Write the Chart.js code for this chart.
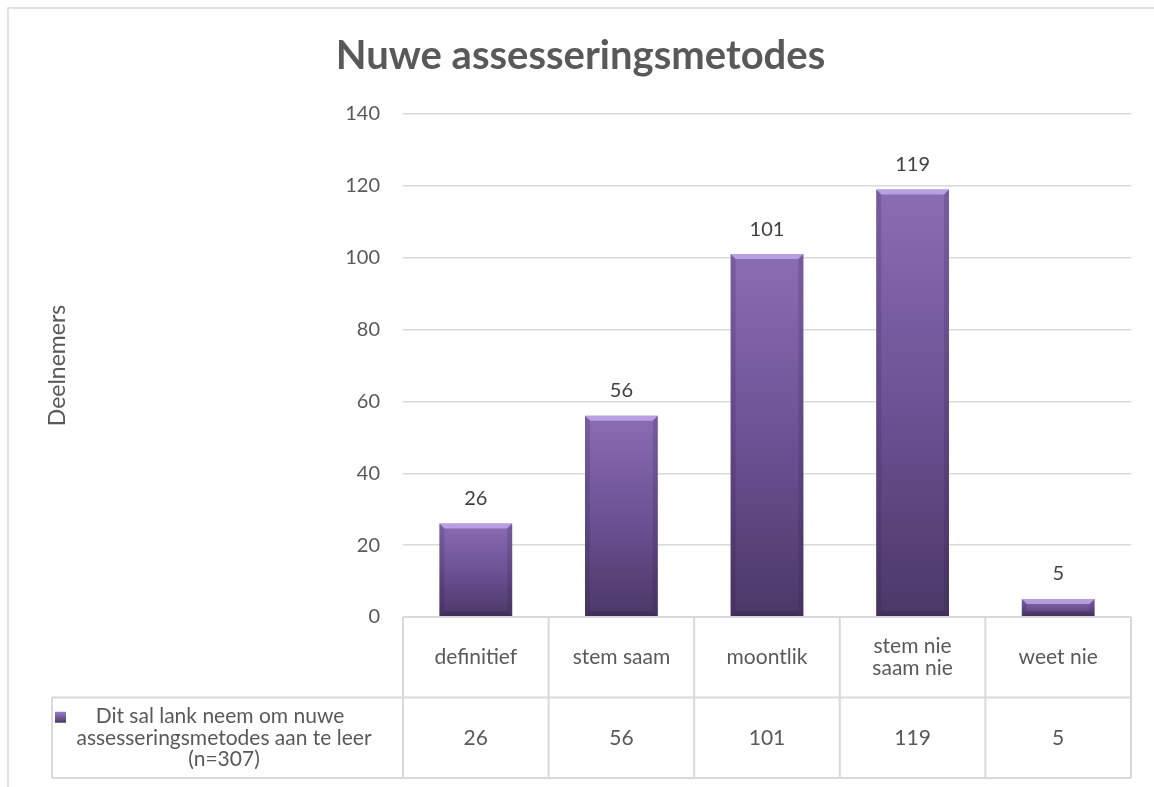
<!DOCTYPE html>
<html>
<head>
<meta charset="utf-8">
<script src="https://cdn.jsdelivr.net/npm/chart.js@4"></script>
<style>
  html, body { margin: 0; padding: 0; background: #fff; }
  #wrap { width: 1154px; height: 787px; position: relative; }
</style>
</head>
<body>
<div id="wrap"><canvas id="chart" width="1154" height="787"></canvas></div>
<script>
// Survey answers and counts
const chartTitle = 'Nuwe assesseringsmetodes';
const axisTitle = 'Deelnemers';
const categories = ['definitief', 'stem saam', 'moontlik', ['stem nie', 'saam nie'], 'weet nie'];
const seriesName = ['Dit sal lank neem om nuwe', 'assesseringsmetodes aan te leer', '(n=307)'];
const counts = [26, 56, 101, 119, 5];
const yTicks = [0, 20, 40, 60, 80, 100, 120, 140];

const FONT = 'Lato, "Open Sans", sans-serif';
const TEXT = '#595959';
const LINE = '#d9d9d9';

// per-bar vertical gradient, light at the top and dark at the bottom
function barFill(ctx) {
  const chart = ctx.chart;
  const y = chart.scales.y;
  if (!y || ctx.dataIndex === undefined) return '#6a4f8e';
  const top = y.getPixelForValue(counts[ctx.dataIndex]);
  const bottom = y.getPixelForValue(0);
  if (!isFinite(top) || !isFinite(bottom) || bottom <= top) return '#6a4f8e';
  const g = chart.ctx.createLinearGradient(0, top, 0, bottom);
  g.addColorStop(0, '#8a6cb3');
  g.addColorStop(0.5, '#6d5295');
  g.addColorStop(1, '#4b3867');
  return g;
}

// bevel on bars + value labels above each bar
const barDecor = {
  id: 'barDecor',
  afterDatasetsDraw(chart) {
    const c = chart.ctx;
    const meta = chart.getDatasetMeta(0);
    meta.data.forEach((bar, i) => {
      const l = bar.x - bar.width / 2, r = bar.x + bar.width / 2;
      const t = bar.y, b = bar.base;
      const bev = Math.min(5, (b - t) / 2);
      c.save();
      // top bevel
      c.fillStyle = 'rgba(205,180,245,0.7)';
      c.beginPath();
      c.moveTo(l, t); c.lineTo(r, t); c.lineTo(r - bev, t + bev); c.lineTo(l + bev, t + bev);
      c.closePath(); c.fill();
      // side bevels
      c.fillStyle = 'rgba(40,25,60,0.18)';
      c.beginPath();
      c.moveTo(l, t); c.lineTo(l + bev, t + bev); c.lineTo(l + bev, b - bev); c.lineTo(l, b);
      c.closePath(); c.fill();
      c.beginPath();
      c.moveTo(r, t); c.lineTo(r - bev, t + bev); c.lineTo(r - bev, b - bev); c.lineTo(r, b);
      c.closePath(); c.fill();
      // bottom bevel
      c.fillStyle = 'rgba(30,18,45,0.22)';
      c.beginPath();
      c.moveTo(l, b); c.lineTo(r, b); c.lineTo(r - bev, b - bev); c.lineTo(l + bev, b - bev);
      c.closePath(); c.fill();
      // value label
      c.fillStyle = '#404040';
      c.font = '20px ' + FONT;
      c.textAlign = 'center';
      c.textBaseline = 'middle';
      c.fillText(String(counts[i]), bar.x, t - 25);
      c.restore();
    });
  }
};

// data table under the plot + outer frame
const dataTable = {
  id: 'dataTable',
  afterDraw(chart) {
    const c = chart.ctx;
    const x = chart.scales.x;
    const area = chart.chartArea;
    const rowH = 80.5;
    const y0 = area.bottom, y1 = y0 + rowH, y2 = y1 + rowH;
    const half = (x.getPixelForValue(1) - x.getPixelForValue(0)) / 2;
    const edges = categories.map((_, i) => x.getPixelForValue(i) - half);
    edges.push(x.getPixelForValue(categories.length - 1) + half);
    const legendLeft = 52;

    c.save();
    c.strokeStyle = LINE;
    c.lineWidth = 2;
    c.beginPath();
    c.moveTo(edges[0], y0); c.lineTo(edges[edges.length - 1], y0);
    c.moveTo(legendLeft, y1); c.lineTo(edges[edges.length - 1], y1);
    c.moveTo(legendLeft, y2); c.lineTo(edges[edges.length - 1], y2);
    c.moveTo(legendLeft, y1); c.lineTo(legendLeft, y2);
    edges.forEach(e => { c.moveTo(e, y0); c.lineTo(e, y2); });
    c.stroke();

    c.fillStyle = TEXT;
    c.font = '21px ' + FONT;
    c.textAlign = 'center';
    c.textBaseline = 'middle';
    categories.forEach((cat, i) => {
      const cx = x.getPixelForValue(i);
      const lines = Array.isArray(cat) ? cat : [cat];
      const lh = 22;
      lines.forEach((ln, k) => {
        c.fillText(ln, cx, (y0 + y1) / 2 + (k - (lines.length - 1) / 2) * lh);
      });
      c.fillText(String(counts[i]), cx, (y1 + y2) / 2);
    });

    // series name cell with legend swatch
    c.font = '21px ' + FONT;
    const cellCx = 224;
    const midY = (y1 + y2) / 2;
    seriesName.forEach((ln, k) => {
      const dx = k === 0 ? -4 : 0;
      c.fillText(ln, cellCx + dx, midY + (k - 1) * 21.5);
    });
    const sw = c.createLinearGradient(0, midY - 26, 0, midY - 15);
    sw.addColorStop(0, '#9a7cc4');
    sw.addColorStop(1, '#4a3866');
    c.fillStyle = sw;
    c.fillRect(55, midY - 26, 11, 11);

    // outer chart frame
    c.strokeStyle = LINE;
    c.lineWidth = 1.5;
    c.strokeRect(8, 8, 1170, 800);
    c.restore();
  }
};

new Chart(document.getElementById('chart'), {
  type: 'bar',
  data: {
    labels: categories,
    datasets: [{
      label: seriesName.join(' '),
      data: counts,
      backgroundColor: barFill,
      borderWidth: 0,
      barPercentage: 0.5,
      categoryPercentage: 1.0
    }]
  },
  options: {
    responsive: false,
    animation: false,
    layout: { padding: { top: 0, right: 23, bottom: 170, left: 30 } },
    plugins: {
      legend: { display: false },
      tooltip: { enabled: false },
      title: {
        display: true,
        text: chartTitle,
        color: TEXT,
        font: { family: FONT, size: 40, weight: 'bold' },
        padding: { top: 32, bottom: 34 }
      }
    },
    scales: {
      x: { display: false },
      y: {
        min: 0,
        max: 140,
        afterBuildTicks(scale) { scale.ticks = yTicks.map(v => ({ value: v })); },
        afterFit(scale) { scale.width = 373; },
        ticks: { color: TEXT, font: { family: FONT, size: 20 }, padding: 23 },
        grid: { color: LINE, lineWidth: 1.5, drawTicks: false },
        border: { display: false },
        title: {
          display: true,
          text: axisTitle,
          color: TEXT,
          font: { family: FONT, size: 23 },
          padding: { top: 14, bottom: 0 }
        }
      }
    }
  },
  plugins: [barDecor, dataTable]
});
</script>
</body>
</html>
